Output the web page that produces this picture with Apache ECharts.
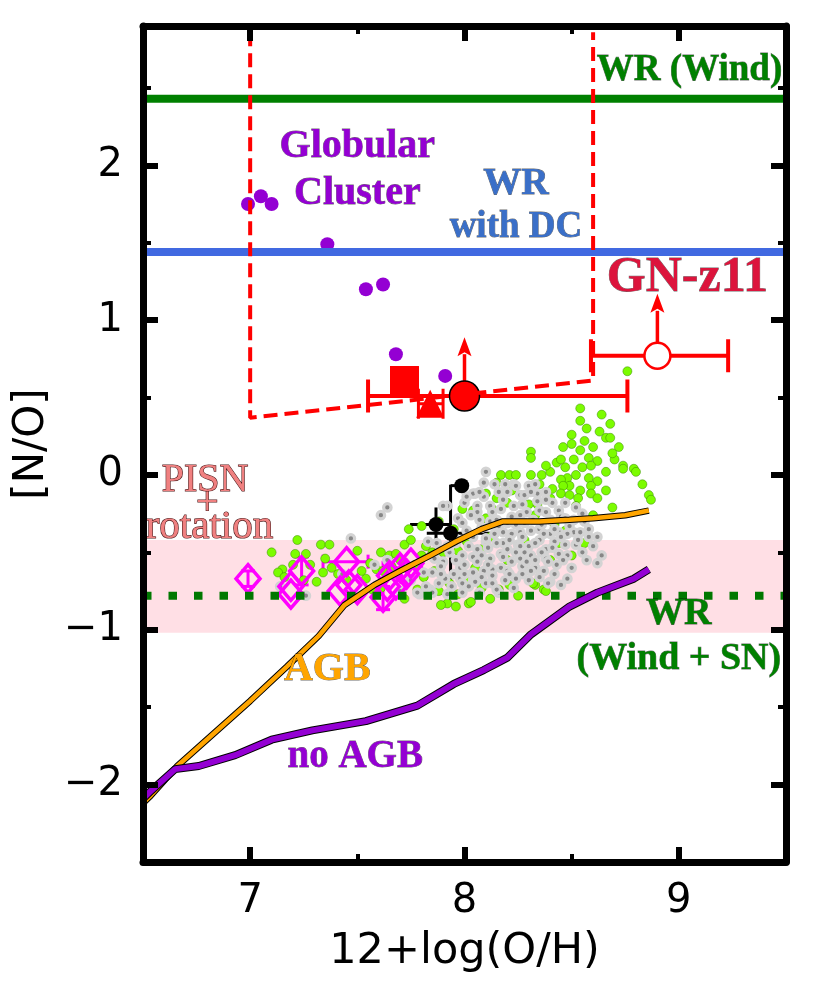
<!DOCTYPE html>
<html><head><meta charset="utf-8">
<script src="https://cdn.jsdelivr.net/npm/echarts@6/dist/echarts.min.js"></script>
<style>html,body{margin:0;padding:0;background:#fff}#c{width:817px;height:992px}</style>
</head><body><div id="c"></div>
<script>
// ---------------- data ----------------
const xRange = [6.5, 9.5];
const yRange = [-2.5, 2.9];
const xMajorTicks = [7, 8, 9];
const xMinorTicks = [7.5, 8.5];
const yMajorTicks = [-2, -1, 0, 1, 2];
const yMinorTicks = [-1.5, -0.5, 0.5, 1.5, 2.5];

const wrWind = 2.43;
const wrWithDC = 1.44;
const wrWindSN = -0.78;
const pisnBand = [-1.02, -0.42];

const gnBox = [[7.0, 2.86], [7.0, 0.37], [8.6, 0.61], [8.6, 2.86]];

const agbCurve = [[6.5,-2.12],[6.53,-2.08],[6.66,-1.88],[6.83,-1.67],[7.0,-1.46],[7.17,-1.24],[7.32,-1.04],[7.44,-0.84],[7.58,-0.71],[7.70,-0.62],[7.84,-0.52],[7.96,-0.43],[8.08,-0.35],[8.18,-0.30],[8.35,-0.30],[8.49,-0.29],[8.60,-0.28],[8.75,-0.26],[8.86,-0.23]];
const noAgbCurve = [[6.5,-2.09],[6.53,-2.05],[6.65,-1.90],[6.76,-1.88],[6.93,-1.81],[7.10,-1.71],[7.29,-1.65],[7.54,-1.59],[7.78,-1.49],[7.95,-1.35],[8.09,-1.26],[8.20,-1.18],[8.31,-1.03],[8.49,-0.85],[8.62,-0.76],[8.79,-0.67],[8.86,-0.61]];

const globularClusters = [[6.99,1.75],[7.05,1.80],[7.10,1.75],[7.36,1.49],[7.54,1.20],[7.62,1.23],[7.68,0.78],[7.91,0.64]];

const localGreen = [[8.76,0.67],[8.54,0.43],[8.54,0.35],[8.64,0.39],[8.68,0.33],[8.66,0.24],[8.68,0.24],[8.56,0.22],[8.54,0.16],[8.46,0.18],
[8.31,0.15],[8.31,0.11],[8.43,0.08],[8.51,0.10],[8.58,0.11],[8.62,0.09],[8.55,0.05],[8.59,0.06],[8.47,0.05],[8.74,0.06],
[8.79,0.04],[8.66,0.02],[8.52,0.00],[8.48,-0.02],[8.45,-0.03],[8.58,-0.02],[8.62,-0.04],[8.83,-0.06],[8.59,-0.07],[8.49,-0.07],
[8.46,-0.07],[8.35,-0.06],[8.31,0.00],[8.36,0.00],[8.17,0.00],[8.21,0.00],[8.24,0.00],[8.41,-0.09],[8.54,-0.10],[8.59,-0.12],
[8.62,-0.15],[8.45,-0.12],[8.49,-0.13],[8.53,-0.15],[8.40,-0.15],[8.86,-0.13],[8.69,-0.21],[8.26,-0.13],[8.60,-0.26],[8.34,-0.19],
[8.30,-0.19],[7.99,-0.22],[8.04,-0.23],[8.13,-0.22],[8.01,-0.43],[8.08,-0.48],[7.97,-0.49],[8.33,-0.71],[8.37,-0.74],[8.21,-0.71],
[8.16,-0.74],[8.02,-0.83],[7.97,-0.77],[7.92,-0.83],[7.89,-0.84],[7.96,-0.85],[7.74,-0.35],[7.82,-0.46],[8.10,-0.28],[7.61,-0.50],
[7.72,-0.45],[7.61,-0.73],[8.32,-0.70],[8.38,-0.75],[8.03,-0.82],[7.22,-0.42],[7.10,-0.50],[7.21,-0.51],[7.26,-0.51],[7.33,-0.45],
[7.37,-0.45],[7.50,-0.49],[7.75,-0.42],[7.15,-0.61],[7.13,-0.63],[7.16,-0.66],[7.35,-0.54],[7.34,-0.63],[7.41,-0.64],[7.56,-0.57],
[7.59,-0.61],[7.54,-0.67],[7.65,-0.52],[7.68,-0.51],[7.66,-0.59],[7.85,-0.50],[7.72,-0.80],[7.81,-0.66],[7.78,-0.74],[8.12,-0.40],
[8.20,-0.55],[8.28,-0.42],[8.42,-0.32],[8.50,-0.52],[8.05,-0.60],[7.90,-0.50],[7.88,-0.30],[8.15,-0.15],[8.22,-0.10],[8.72,0.18],
[8.63,0.28],[8.70,0.10],[8.40,0.02],[8.52,-0.20],[8.66,-0.10],[8.87,-0.16],[8.80,0.02],[8.74,0.04],[8.57,0.30],[8.50,0.20],
[7.28,-0.58],[7.31,-0.69],[7.38,-0.60],[7.45,-0.68],[7.52,-0.62],[7.57,-0.74],[7.62,-0.62],[7.70,-0.55],[7.77,-0.58],[7.80,-0.52],
[7.86,-0.62],[7.88,-0.75],[7.93,-0.70],[8.00,-0.68],[8.08,-0.73],[8.12,-0.80],[8.25,-0.78],[8.28,-0.62],[8.44,-0.44],[8.40,-0.55],
[8.56,-0.44],[8.47,-0.36],[8.33,-0.26],[8.20,-0.18],[8.10,-0.12],[8.38,0.06],[8.60,0.18],[8.69,0.14],[8.50,0.26],[8.45,0.10],
[8.15,-0.05],[7.95,-0.35],[7.80,-0.33],[7.25,-0.68],[7.20,-0.58]];

const localGray = [[8.14,-0.06],[8.19,-0.06],[8.23,-0.06],[8.30,-0.07],[8.16,-0.11],[8.20,-0.11],[8.26,-0.13],[8.34,-0.12],[8.38,-0.11],[8.05,-0.12],
[8.09,-0.14],[8.12,-0.20],[8.06,-0.20],[7.92,-0.20],[8.06,-0.24],[7.97,-0.28],[7.99,-0.31],[8.07,-0.29],[8.13,-0.24],[8.17,-0.22],
[8.27,-0.19],[8.29,-0.24],[8.22,-0.27],[8.26,-0.26],[8.20,-0.31],[8.24,-0.32],[8.28,-0.31],[8.32,-0.29],[8.35,-0.23],[8.38,-0.24],
[8.44,-0.23],[8.45,-0.27],[8.40,-0.29],[8.52,-0.21],[8.47,-0.28],[8.51,-0.37],[8.54,-0.37],[8.48,-0.38],[8.44,-0.37],[8.40,-0.38],
[8.35,-0.35],[8.31,-0.36],[8.26,-0.37],[8.22,-0.38],[8.18,-0.37],[8.14,-0.38],[8.10,-0.43],[8.06,-0.48],[8.02,-0.46],[7.99,-0.52],
[8.04,-0.53],[8.08,-0.52],[8.12,-0.54],[8.17,-0.51],[8.20,-0.48],[8.25,-0.45],[8.30,-0.46],[8.35,-0.42],[8.38,-0.48],[8.42,-0.43],
[8.47,-0.45],[8.52,-0.45],[8.55,-0.50],[8.44,-0.51],[8.38,-0.54],[8.31,-0.52],[8.26,-0.54],[8.22,-0.56],[8.17,-0.60],[8.13,-0.61],
[8.09,-0.62],[8.04,-0.63],[7.98,-0.60],[7.98,-0.67],[8.04,-0.68],[8.08,-0.66],[8.13,-0.65],[8.16,-0.76],[8.24,-0.67],[8.27,-0.59],
[8.33,-0.60],[8.37,-0.62],[8.40,-0.69],[8.48,-0.67],[7.92,-0.77],[7.99,-0.76],[7.90,-0.56],[7.91,-0.67],[7.90,-0.20],[8.10,0.02],
[7.61,-0.26],[7.64,-0.21],[7.47,-0.41],[8.04,-0.12],[8.24,-0.07],[8.33,-0.06],[8.07,-0.11],[8.28,-0.13],[7.89,-0.59],[7.81,-0.63],
[7.79,-0.77],[7.84,-0.74],[7.99,-0.70],[8.05,-0.69],[8.15,-0.74],[7.95,-0.64],[8.10,-0.41],[8.04,-0.40],[8.51,-0.29],[8.58,-0.40],
[8.39,-0.70],[7.87,-0.44],[7.83,-0.43],[7.43,-0.64],[7.64,-0.55],[7.14,-0.72],[7.26,-0.78],[7.78,-0.76],[7.82,-0.72],[7.85,-0.76],
[7.89,-0.64],[7.85,-0.63],[8.00,-0.58],[8.12,-0.30],[8.18,-0.44],[8.28,-0.50],[8.33,-0.55],[8.43,-0.58],[8.20,-0.62],[8.60,-0.46],
[8.56,-0.30],[7.95,-0.40],[8.00,-0.18],[8.36,-0.32],[8.48,-0.52],[8.62,-0.57],[8.30,-0.68],[8.10,-0.70],[7.93,-0.50],[8.42,-0.64],
[7.96,-0.44],[8.01,-0.36],[8.03,-0.26],[8.08,-0.34],[8.11,-0.47],[8.15,-0.29],[8.15,-0.44],[8.18,-0.53],[8.21,-0.42],[8.23,-0.20],
[8.24,-0.50],[8.27,-0.40],[8.29,-0.56],[8.31,-0.62],[8.33,-0.44],[8.34,-0.17],[8.36,-0.50],[8.37,-0.38],[8.39,-0.56],[8.41,-0.47],
[8.42,-0.35],[8.45,-0.40],[8.46,-0.55],[8.49,-0.33],[8.50,-0.60],[8.53,-0.42],[8.57,-0.55],[8.02,-0.72],[8.07,-0.76],[8.11,-0.58],
[8.19,-0.68],[8.23,-0.73],[8.27,-0.64],[8.35,-0.66],[8.45,-0.71],[7.94,-0.72],[7.96,-0.55],[8.00,-0.64],[8.09,-0.05],[8.18,-0.16],
[8.31,-0.11],[8.41,-0.18],[8.47,-0.18],[8.55,-0.25],[8.58,-0.35],[8.62,-0.40],[8.64,-0.52],[7.88,-0.70],[7.86,-0.54],[7.92,-0.46],
[8.13,-0.70],[8.21,-0.64],[8.06,-0.56],[8.16,-0.33],[8.01,-0.14],[8.26,-0.46],[8.38,-0.16],[7.58,-0.58],[7.75,-0.68],[7.70,-0.75]];

// [x, y, xlo, xhi, ylo, yhi]
const highZGalaxies = [[6.99,-0.67,6.99,6.99,-0.72,-0.62],[7.24,-0.62,7.24,7.24,-0.71,-0.53],[7.19,-0.72,7.19,7.19,-0.72,-0.72],[7.19,-0.77,7.19,7.19,-0.77,-0.77],
[7.45,-0.56,7.34,7.55,-0.56,-0.56],[7.46,-0.71,7.46,7.46,-0.71,-0.71],[7.42,-0.75,7.42,7.42,-0.75,-0.75],[7.50,-0.74,7.50,7.50,-0.74,-0.74],
[7.62,-0.79,7.62,7.62,-0.87,-0.72],[7.70,-0.60,7.62,7.80,-0.60,-0.60],[7.65,-0.65,7.65,7.65,-0.65,-0.65],[7.75,-0.57,7.75,7.75,-0.57,-0.57],
[7.68,-0.71,7.68,7.68,-0.71,-0.71],[7.64,-0.72,7.64,7.64,-0.72,-0.72],[7.73,-0.64,7.73,7.73,-0.64,-0.64]];

const blackObjects = [[7.935,-0.376,7.824,8.127,-0.703,-0.063],[7.867,-0.32,7.746,7.932,-0.43,-0.21],[7.987,-0.069,7.935,7.987,-0.069,-0.069]];

const gnSquare = [[7.72,0.61]];
const gnTriangle = [[7.84,0.46,7.785,7.90,0.46,0.46]];
const gnFilled = [[8.00,0.51,7.55,8.76,0.51,0.51]];
const gnOpen = [[8.90,0.77,8.59,9.23,0.77,0.77]];
const gnLowerLimits = [[8.00,0.51,0.89],[8.90,0.77,1.17]]; // x, y, arrow tip

// annotation anchors (data coords)
const txtWRWind = [9.05, 2.61];
const txtGlobular = [7.50, 2.12];
const txtCluster = [7.50, 1.82];
const txtWR1 = [8.24, 1.88];
const txtWithDC = [8.24, 1.60];
const txtGN = [9.04, 1.27];
const txtPISN = [6.79, -0.035];
const txtPlus = [6.80, -0.185];
const txtRotation = [6.81, -0.34];
const txtAGB = [7.36, -1.26];
const txtNoAGB = [7.49, -1.82];
const txtWR2 = [9.00, -0.90];
const txtWindSN = [9.00, -1.19];

// ---------------- rendering ----------------
const chart = echarts.init(document.getElementById('c'), null, {renderer: 'canvas'});
const SERIF = 'Liberation Serif';
const SANS = 'DejaVu Sans';

function errRenderer(color, lw, capLen) {
  return function (params, api) {
    const x = api.value(0), y = api.value(1), xlo = api.value(2), xhi = api.value(3), ylo = api.value(4), yhi = api.value(5);
    const st = {stroke: color, lineWidth: lw, fill: null};
    const ch = [];
    if (xlo !== xhi) {
      const a = api.coord([xlo, y]), b = api.coord([xhi, y]);
      ch.push({type: 'line', shape: {x1: a[0], y1: a[1], x2: b[0], y2: b[1]}, style: st});
      if (capLen) {
        if (xlo !== x) ch.push({type: 'line', shape: {x1: a[0], y1: a[1] - capLen / 2, x2: a[0], y2: a[1] + capLen / 2}, style: st});
        if (xhi !== x) ch.push({type: 'line', shape: {x1: b[0], y1: b[1] - capLen / 2, x2: b[0], y2: b[1] + capLen / 2}, style: st});
      }
    }
    if (ylo !== yhi) {
      const a = api.coord([x, ylo]), b = api.coord([x, yhi]);
      ch.push({type: 'line', shape: {x1: a[0], y1: a[1], x2: b[0], y2: b[1]}, style: st});
      if (capLen) {
        ch.push({type: 'line', shape: {x1: a[0] - capLen / 2, y1: a[1], x2: a[0] + capLen / 2, y2: a[1]}, style: st});
        ch.push({type: 'line', shape: {x1: b[0] - capLen / 2, y1: b[1], x2: b[0] + capLen / 2, y2: b[1]}, style: st});
      }
    }
    return {type: 'group', children: ch};
  };
}

function arrowRenderer(params, api) {
  const p0 = api.coord([api.value(0), api.value(1)]);
  const p1 = api.coord([api.value(0), api.value(2)]);
  const hl = 19, hw = 7;
  return {type: 'group', children: [
    {type: 'line', shape: {x1: p0[0], y1: p0[1], x2: p1[0], y2: p1[1] + hl - 2}, style: {stroke: '#ff0000', lineWidth: 3.5}},
    {type: 'polygon', shape: {points: [[p1[0], p1[1]], [p1[0] - hw, p1[1] + hl], [p1[0], p1[1] + hl - 4], [p1[0] + hw, p1[1] + hl]]}, style: {fill: '#ff0000'}}
  ]};
}

function bandRenderer(params, api) {
  const a = api.coord([xRange[0], api.value(1)]);
  const b = api.coord([xRange[1], api.value(0)]);
  return {type: 'rect', shape: {x: a[0], y: a[1], width: b[0] - a[0], height: b[1] - a[1]}, style: {fill: 'rgba(255,192,203,0.5)'}};
}

function hline(y, color, width, type) {
  return {type: 'line', data: [[xRange[0], y], [xRange[1], y]], symbol: 'none', silent: true,
    lineStyle: {color: color, width: width, type: type || 'solid', cap: 'butt'}};
}

function scatter(data, size, style, symbol) {
  return {type: 'scatter', data: data, symbol: symbol || 'circle', symbolSize: size, silent: true,
    itemStyle: Object.assign({opacity: 1}, style)};
}

function textSeries(pos, text, color, size, weight, border) {
  return {type: 'scatter', data: [pos], symbolSize: 1, silent: true, z: 10,
    itemStyle: {color: 'rgba(0,0,0,0)', opacity: 1},
    label: {show: true, position: 'inside', formatter: text, color: color, fontFamily: SERIF, opacity: 1,
      fontSize: size, fontWeight: weight || 'bold', align: 'center', verticalAlign: 'middle',
      textBorderColor: border || 'rgba(0,0,0,0.6)', textBorderWidth: border ? 1.2 : 0.8}};
}

function xAx(pos, ticks, len, w, line, label) {
  const ax = {type: 'value', position: pos, min: xRange[0], max: xRange[1], interval: 0.5, z: 20,
    splitLine: {show: false},
    axisLine: {show: line, onZero: false, lineStyle: {color: '#000', width: 7}},
    axisTick: {show: true, inside: true, length: len, customValues: ticks, lineStyle: {color: '#000', width: w}},
    axisLabel: {show: label, customValues: xMajorTicks, fontSize: 40, fontFamily: SANS, color: '#000', margin: 20}};
  if (label) {
    ax.name = '12+log(O/H)'; ax.nameLocation = 'middle'; ax.nameGap = 68;
    ax.nameTextStyle = {fontSize: 43, fontFamily: SANS, color: '#000'};
  }
  return ax;
}
function yAx(pos, ticks, len, w, line, label) {
  const ax = {type: 'value', position: pos, min: yRange[0], max: yRange[1], interval: 0.5, z: 20,
    splitLine: {show: false},
    axisLine: {show: line, onZero: false, lineStyle: {color: '#000', width: 7}},
    axisTick: {show: true, inside: true, length: len, customValues: ticks, lineStyle: {color: '#000', width: w}},
    axisLabel: {show: label, customValues: yMajorTicks, fontSize: 40, fontFamily: SANS, color: '#000', margin: 20,
      formatter: v => (v < 0 ? '\u2212' + Math.abs(v) : String(v))}};
  if (label) {
    ax.name = '[N/O]'; ax.nameLocation = 'middle'; ax.nameGap = 90; ax.nameRotate = 90;
    ax.nameTextStyle = {fontSize: 42, fontFamily: SANS, color: '#000'};
  }
  return ax;
}

const option = {
  animation: false,
  backgroundColor: '#fff',
  grid: {left: 143, right: 31, top: 26, bottom: 130, containLabel: false},
  xAxis: [xAx('bottom', xMajorTicks, 15, 6, true, true), xAx('bottom', xMinorTicks, 8, 4, false, false),
          xAx('top', xMajorTicks, 15, 6, true, false), xAx('top', xMinorTicks, 8, 4, false, false)],
  yAxis: [yAx('left', yMajorTicks, 15, 6, true, true), yAx('left', yMinorTicks, 8, 4, false, false),
          yAx('right', yMajorTicks, 15, 6, true, false), yAx('right', yMinorTicks, 8, 4, false, false)],
  series: [
    {type: 'custom', data: [pisnBand], renderItem: bandRenderer, silent: true},
    scatter(globularClusters, 14, {color: '#9400d3'}),
    hline(wrWind, '#008000', 8),
    hline(wrWithDC, '#4169e1', 8),
    hline(wrWindSN, '#007800', 8, [8.5, 17]),
    {type: 'line', data: agbCurve, symbol: 'none', silent: true, lineStyle: {color: '#000', width: 6.5}},
    {type: 'line', data: agbCurve, symbol: 'none', silent: true, lineStyle: {color: '#ffa500', width: 4.5}},
    {type: 'line', data: noAgbCurve, symbol: 'none', silent: true, lineStyle: {color: '#000', width: 8}},
    {type: 'line', data: noAgbCurve, symbol: 'none', silent: true, lineStyle: {color: '#9400d3', width: 6}},
    scatter(localGreen, 9, {color: '#7cfc00', borderColor: 'rgba(50,130,0,0.8)', borderWidth: 0.6}),
    scatter(localGray, 7.5, {color: '#878787', borderColor: '#d3d3d3', borderWidth: 3.2}),
    {type: 'custom', data: highZGalaxies, renderItem: errRenderer('#ff00ff', 3, 14), silent: true},
    scatter(highZGalaxies.map(d => [d[0], d[1]]), [24, 28], {color: 'rgba(0,0,0,0)', borderColor: '#ff00ff', borderWidth: 3.5}, 'diamond'),
    {type: 'custom', data: blackObjects, renderItem: errRenderer('#000', 3, 0), silent: true},
    scatter(blackObjects.map(d => [d[0], d[1]]), 15, {color: '#000'}),
    {type: 'line', data: gnBox, symbol: 'none', silent: true, lineStyle: {color: '#ff0000', width: 4, type: [14, 7]}},
    {type: 'custom', data: gnLowerLimits, renderItem: arrowRenderer, silent: true},
    {type: 'custom', data: gnFilled.concat(gnOpen), renderItem: errRenderer('#ff0000', 4, 33), silent: true},
    {type: 'custom', data: gnTriangle, renderItem: errRenderer('#ff0000', 3, 30), silent: true},
    scatter(gnSquare, 29, {color: '#ff0000'}, 'rect'),
    scatter(gnTriangle.map(d => [d[0], d[1]]), 28, {color: '#ff0000'}, 'triangle'),
    scatter(gnFilled.map(d => [d[0], d[1]]), 30, {color: '#ff0000', borderColor: '#000', borderWidth: 1.5}),
    scatter(gnOpen.map(d => [d[0], d[1]]), 26, {color: '#fff', borderColor: '#ff0000', borderWidth: 2.5}),
    textSeries(txtWRWind, 'WR (Wind)', '#008000', 37),
    textSeries(txtGlobular, 'Globular', '#9400d3', 40),
    textSeries(txtCluster, 'Cluster', '#9400d3', 40),
    textSeries(txtWR1, 'WR', '#3a6fc8', 38),
    textSeries(txtWithDC, 'with DC', '#3a6fc8', 37),
    textSeries(txtGN, 'GN-z11', '#dc143c', 50),
    textSeries(txtPISN, 'PISN', '#f08080', 40, 'normal', '#4a1818'),
    textSeries(txtPlus, '+', '#f08080', 40, 'normal', '#4a1818'),
    textSeries(txtRotation, 'rotation', '#f08080', 41, 'normal', '#4a1818'),
    textSeries(txtAGB, 'AGB', '#ffa500', 40),
    textSeries(txtNoAGB, 'no AGB', '#9400d3', 39),
    textSeries(txtWR2, 'WR', '#008000', 38),
    textSeries(txtWindSN, '(Wind + SN)', '#008000', 38)
  ]
};
chart.setOption(option);
</script></body></html>
